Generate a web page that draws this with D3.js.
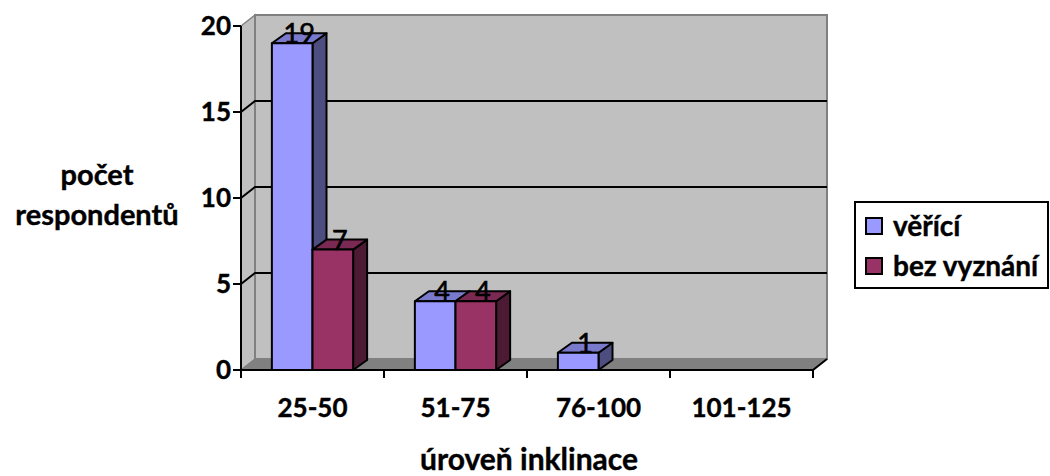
<!DOCTYPE html>
<html>
<head>
<meta charset="utf-8">
<script src="https://cdn.jsdelivr.net/npm/d3@7"></script>
<style>
  html, body { margin: 0; padding: 0; background: #fff; }
  svg { display: block; font-family: Lato, "Open Sans", sans-serif; }
  .bold { font-weight: bold; stroke: #000; stroke-width: 0.4px; }
</style>
</head>
<body>
<svg id="chart" width="1050" height="476"></svg>
<script>
// Chart data
const categories = ["25-50", "51-75", "76-100", "101-125"];
const seriesNames = ["věřící", "bez vyznání"];
const believers = [19, 4, 1, 0];
const nonReligious = [7, 4, 0, 0];
const yTicks = [0, 5, 10, 15, 20];
const yTitle = ["počet", "respondentů"];
const xTitle = "úroveň inklinace";

const seriesValues = [believers, nonReligious];
const palette = [
  { front: "#9999ff", top: "#7a7acc", side: "#4d4d80" },
  { front: "#993366", top: "#7a2952", side: "#4d1a33" }
];

const svg = d3.select("#chart");

// Plot geometry (front plane of the 3-D box)
const pLeft = 241, pRight = 813, pBottom = 370, pTop = 26;
const wallDx = 14, wallDy = -11;   // depth of walls/floor
const barDx = 14, barDy = -10;     // depth of each bar

const y = d3.scaleLinear().domain([0, 20]).range([pBottom, pTop]);
const x = d3.scaleBand().domain(categories).range([pLeft, pRight]).padding(0);
const xs = d3.scaleBand().domain(seriesNames).range([0, x.bandwidth()])
  .paddingInner(0).paddingOuter(0.76);

const poly = pts => pts.map(p => p.join(",")).join(" ");

// Left side wall
svg.append("polygon")
  .attr("points", poly([[pLeft, pBottom], [pLeft, pTop], [pLeft + wallDx, pTop + wallDy], [pLeft + wallDx, pBottom + wallDy]]))
  .attr("fill", "#c0c0c0").attr("stroke", "#808080").attr("stroke-width", 1.5);

// Back wall
svg.append("rect")
  .attr("x", pLeft + wallDx).attr("y", pTop + wallDy)
  .attr("width", pRight - pLeft).attr("height", pBottom - pTop)
  .attr("fill", "#c0c0c0").attr("stroke", "#808080").attr("stroke-width", 2);

// Floor
svg.append("polygon")
  .attr("points", poly([[pLeft, pBottom], [pLeft + wallDx, pBottom + wallDy], [pRight + wallDx, pBottom + wallDy], [pRight, pBottom]]))
  .attr("fill", "#808080").attr("stroke", "#808080").attr("stroke-width", 1);

// Gridlines on the back wall and their diagonals across the side wall
const gridVals = yTicks.filter(v => v > 0 && v < 20);
svg.append("g").selectAll("path").data(gridVals).join("path")
  .attr("d", v => `M${pLeft},${y(v)} L${pLeft + wallDx},${y(v) + wallDy} L${pRight + wallDx},${y(v) + wallDy}`)
  .attr("fill", "none").attr("stroke", "#000").attr("stroke-width", 2);

// Bars drawn left to right so later bars overlap earlier side faces
const bars = [];
categories.forEach((c, ci) => {
  seriesNames.forEach((s, si) => {
    bars.push({ cat: c, ser: s, si, v: seriesValues[si][ci] });
  });
});
const drawn = bars.filter(d => d.v > 0);

const gBars = svg.append("g");
drawn.forEach(d => {
  const x0 = x(d.cat) + xs(d.ser);
  const x1 = x0 + xs.bandwidth();
  const yt = y(d.v), yb = y(0);
  const col = palette[d.si];
  const g = gBars.append("g").attr("stroke", "#000").attr("stroke-width", 2).attr("stroke-linejoin", "round");
  g.append("polygon").attr("fill", col.side)
    .attr("points", poly([[x1, yb], [x1, yt], [x1 + barDx, yt + barDy], [x1 + barDx, yb + barDy]]));
  g.append("polygon").attr("fill", col.top)
    .attr("points", poly([[x0, yt], [x0 + barDx, yt + barDy], [x1 + barDx, yt + barDy], [x1, yt]]));
  g.append("rect").attr("fill", col.front)
    .attr("x", x0).attr("y", yt).attr("width", x1 - x0).attr("height", yb - yt);
});

// Value labels
svg.append("g").selectAll("text").data(drawn).join("text")
  .attr("x", d => x(d.cat) + xs(d.ser) + xs.bandwidth() / 2 + barDx / 2)
  .attr("y", d => y(d.v))
  .attr("text-anchor", "middle")
  .attr("font-size", 27)
  .attr("fill", "#000").attr("stroke", "#000").attr("stroke-width", 0.6)
  .text(d => d.v);

// Value axis
svg.append("line").attr("x1", pLeft).attr("x2", pLeft).attr("y1", pTop).attr("y2", pBottom)
  .attr("stroke", "#000").attr("stroke-width", 2);
const yAxisG = svg.append("g");
yAxisG.selectAll("line").data(yTicks).join("line")
  .attr("x1", pLeft - 8).attr("x2", pLeft).attr("y1", d => y(d)).attr("y2", d => y(d))
  .attr("stroke", "#000").attr("stroke-width", 2);
yAxisG.selectAll("text").data(yTicks).join("text")
  .attr("class", "bold")
  .attr("x", pLeft - 10).attr("y", d => y(d)).attr("dy", "0.36em")
  .attr("text-anchor", "end").attr("font-size", 26)
  .text(d => d);

// Category axis
svg.append("path")
  .attr("d", `M${pLeft},${pBottom} L${pRight},${pBottom} L${pRight + wallDx},${pBottom + wallDy}`)
  .attr("fill", "none").attr("stroke", "#000").attr("stroke-width", 2);
const edges = categories.map(c => x(c)).concat([pRight]);
svg.append("g").selectAll("line").data(edges).join("line")
  .attr("x1", d => d).attr("x2", d => d).attr("y1", pBottom).attr("y2", pBottom + 8)
  .attr("stroke", "#000").attr("stroke-width", 2);
svg.append("g").selectAll("text").data(categories).join("text")
  .attr("class", "bold")
  .attr("x", d => x(d) + x.bandwidth() / 2).attr("y", 417)
  .attr("text-anchor", "middle").attr("font-size", 26)
  .text(d => d);

// Axis titles
svg.append("text").attr("class", "bold").attr("x", 529).attr("y", 470)
  .attr("text-anchor", "middle").attr("font-size", 30)
  .text(xTitle);
svg.append("g").selectAll("text").data(yTitle).join("text")
  .attr("class", "bold")
  .attr("x", 97).attr("y", (d, i) => 185 + i * 40)
  .attr("text-anchor", "middle").attr("font-size", 29)
  .text(d => d);

// Legend
const legend = svg.append("g");
legend.append("rect").attr("x", 855).attr("y", 202).attr("width", 193).attr("height", 86)
  .attr("fill", "#fff").attr("stroke", "#000").attr("stroke-width", 2);
const items = legend.selectAll("g.item").data(seriesNames).join("g").attr("class", "item")
  .attr("transform", (d, i) => `translate(866,${218 + i * 40})`);
items.append("rect").attr("width", 16).attr("height", 16)
  .attr("fill", (d, i) => palette[i].front).attr("stroke", "#000").attr("stroke-width", 2);
items.append("text").attr("class", "bold").attr("x", 27).attr("y", 18)
  .attr("font-size", 28)
  .text(d => d);
</script>
</body>
</html>
